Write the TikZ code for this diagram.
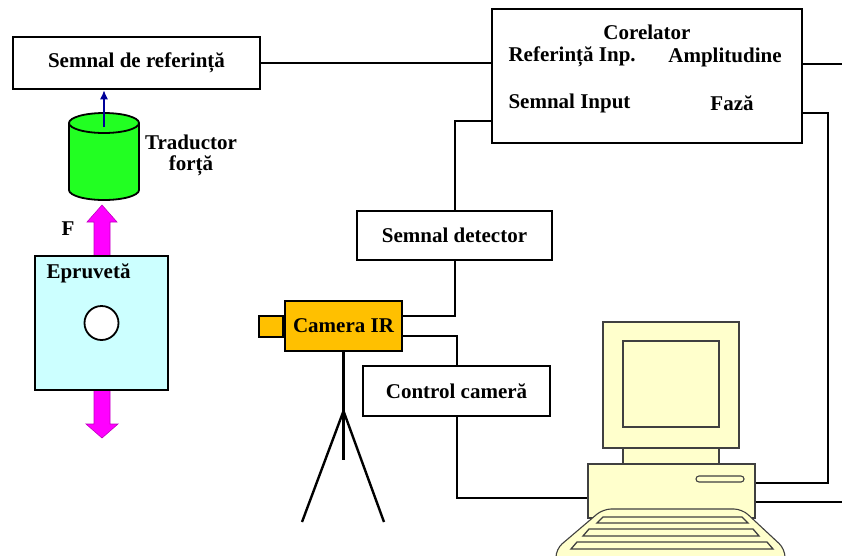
\documentclass[tikz,border=0pt]{standalone}
\usepackage{fontspec}
\setmainfont{Liberation Serif}
\usetikzlibrary{arrows.meta}

\definecolor{pcyellow}{HTML}{FFFFCC}
\definecolor{camorange}{HTML}{FFC000}
\definecolor{specblue}{HTML}{CCFFFF}
\definecolor{tradgreen}{HTML}{22FF22}
\definecolor{arrowblue}{HTML}{000099}
\definecolor{loadpink}{HTML}{FF00FF}

\begin{document}
\begin{tikzpicture}[x=1pt,y=-1pt,
  font=\fontsize{21}{21}\selectfont\bfseries,
  box/.style={draw,line width=2.6pt,inner sep=0pt},
  wire/.style={line width=2pt},
  pc/.style={draw=black!75,line width=1.1pt,fill=pcyellow},
  forcearrow/.style={fill=loadpink,draw=loadpink!75!black,line width=0.6pt}]
\useasboundingbox (0,0) rectangle (842,555);

% reference signal and correlator
\node[box,minimum width=247pt,minimum height=52pt] (ref) at (136.5,63) {Semnal de referință};
\node[box,minimum width=310pt,minimum height=134pt] (cor) at (647,76) {};
\node (corname) at (647,32) {Corelator};
\node[anchor=west] (refinp) at (505,57) {Referință Inp.};
\node (ampl) at (725,57) {Amplitudine};
\node[anchor=west] (siginp) at (505,103) {Semnal Input};
\node (faza) at (732,103) {Fază};

% detector and camera control
\node[box,minimum width=195pt,minimum height=49pt] (det) at (454.5,235.5) {Semnal detector};
\node[box,minimum width=187pt,minimum height=50pt] (ctl) at (456.5,391) {Control cameră};

% camera on tripod
\coordinate (joint) at (343.5,411);
\draw[line width=2.4pt] (343.5,351) -- (343.5,460);
\draw[line width=2.4pt] (joint) -- (302,522);
\draw[line width=2.4pt] (joint) -- (384,522);
\node[box,fill=camorange,minimum width=117pt,minimum height=50pt] (cam) at (343.5,326) {Camera IR};
\node[box,line width=2pt,fill=camorange,minimum width=24pt,minimum height=21pt,anchor=east] (lens) at (cam.west) {};

% computer
\draw[pc] (623,448) rectangle (719,464);
\draw[pc] (603,322) rectangle (739,448);
\draw[pc] (623,341) rectangle (719,427);
\node[pc,minimum width=167pt,minimum height=54pt] (base) at (671.5,491) {};
\draw[pc,rounded corners=3pt] (696,476) rectangle (744,482);
\draw[pc,rounded corners=8pt] (603,509) -- (742,509) -- (785,549) -- (785,575) -- (556,575) -- (556,549) -- cycle;
\draw[pc,line width=1.3pt] (603,517) -- (742,517) -- (748,523) -- (597,523) -- cycle;
\draw[pc,line width=1.3pt] (589,529) -- (753,529) -- (759,536) -- (583,536) -- cycle;
\draw[pc,line width=1.3pt] (577,542) -- (767,542) -- (773,549) -- (571,549) -- cycle;

% connections
\coordinate (ampout) at (842,64);
\coordinate (fazout) at (828,113);
\coordinate (pcout) at (842,502);
\draw[wire] (ref.east) -- (ref.east -| cor.west);
\draw[wire] (cor.east |- ampout) -- (ampout);
\draw[wire] (cor.east |- fazout) -- (fazout) |- ([yshift=8pt]base.east);
\draw[wire] ([yshift=-11pt]base.east) -- (pcout);
\draw[wire] (cor.west |- 0,121) -| (det.north);
\draw[wire] ([yshift=10pt]cam.east) -| (det.south);
\draw[wire] ([yshift=-10pt]cam.east) -| (ctl.north);
\draw[wire] (ctl.south) |- ([yshift=-7pt]base.west);

% force transducer
\filldraw[fill=tradgreen,line width=1.8pt] (69,123) -- (69,190) arc[start angle=180,end angle=0,x radius=35,y radius=10] -- (139,123);
\filldraw[fill=tradgreen,line width=1.8pt] (104,123) ellipse [x radius=35,y radius=10];
\coordinate (cyltop) at (104,127);
\draw[-{Latex[length=9pt,width=8pt]},arrowblue,line width=1.3pt] (cyltop) -- (cyltop |- ref.south);
\node[align=center] (tradname) at (191,155) {Traductor\\forță};

% specimen with load arrows
\filldraw[forcearrow] (94,256) -- (94,222) -- (87,222) -- (102,205) -- (117,222) -- (110,222) -- (110,256) -- cycle;
\filldraw[forcearrow] (94,390) -- (94,424) -- (86,424) -- (102,438) -- (118,424) -- (110,424) -- (110,390) -- cycle;
\node[box,line width=2.2pt,fill=specblue,minimum width=133pt,minimum height=134pt] (spec) at (101.5,323) {};
\node[anchor=west] (specname) at (43,273) {Epruvetă};
\draw[line width=1.8pt,fill=white] (spec.center) circle [radius=17];
\node (force) at (68,229) {F};
\end{tikzpicture}
\end{document}
